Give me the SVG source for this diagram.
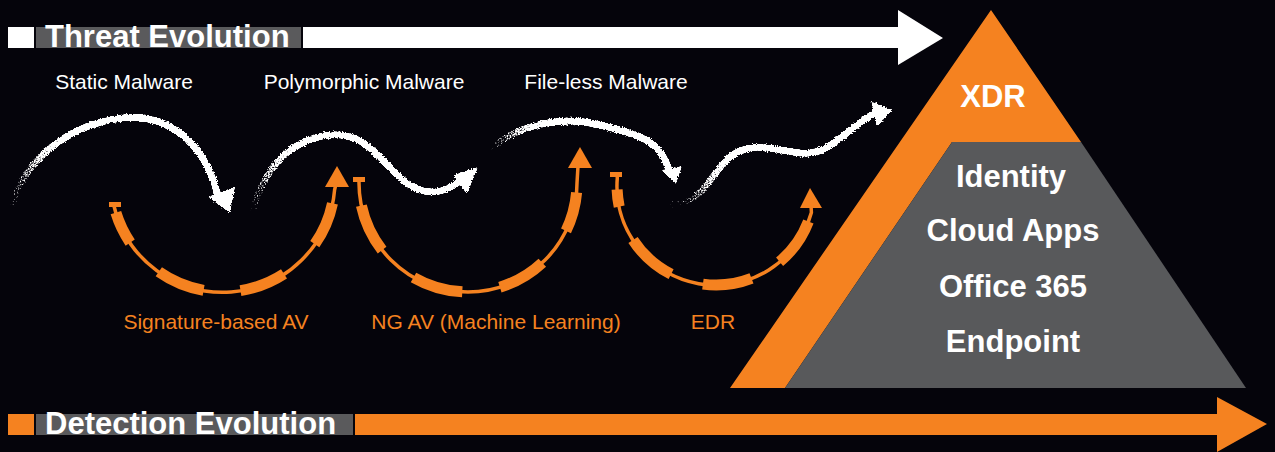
<svg xmlns="http://www.w3.org/2000/svg" width="1275" height="452" viewBox="0 0 1275 452">
<style>
.lblw{font-family:"Liberation Sans",Arial,sans-serif;font-size:21px;fill:#ffffff;text-anchor:middle}
.lblo{font-family:"Liberation Sans",Arial,sans-serif;font-size:21px;fill:#f58220;text-anchor:middle}
.title{font-family:"Liberation Sans",Arial,sans-serif;font-size:31px;font-weight:bold;fill:#ffffff}
.pyr{font-family:"Liberation Sans",Arial,sans-serif;font-size:31px;font-weight:bold;fill:#ffffff;text-anchor:middle}
.thin{fill:none;stroke:#f58220;stroke-width:3.5}
.thick{fill:none;stroke:#f58220;stroke-width:11;stroke-linecap:butt}
.orf{fill:#f58220}
.chalk{fill:none;stroke-width:7;stroke-linecap:round;stroke-linejoin:round}
</style>
<defs>
<filter id="rough" filterUnits="userSpaceOnUse" x="0" y="0" width="1275" height="452" color-interpolation-filters="sRGB">
<feTurbulence type="fractalNoise" baseFrequency="0.8" numOctaves="2" seed="3" result="n"/>
<feDisplacementMap in="SourceGraphic" in2="n" scale="3.5" xChannelSelector="R" yChannelSelector="G" result="d"/>
<feTurbulence type="fractalNoise" baseFrequency="0.7" numOctaves="1" seed="8" result="n2"/>
<feColorMatrix in="n2" type="matrix" values="0 0 0 0 0  0 0 0 0 0  0 0 0 0 0  1 0 0 0 0" result="nm"/>
<feComposite in="d" in2="nm" operator="arithmetic" k1="0" k2="4" k3="-4" k4="0.2"/>
</filter>
<linearGradient id="f1" gradientUnits="userSpaceOnUse" x1="13" y1="205" x2="70" y2="128"><stop offset="0" stop-color="#fff" stop-opacity="0.3"/><stop offset="1" stop-color="#fff" stop-opacity="1"/></linearGradient>
<linearGradient id="f2" gradientUnits="userSpaceOnUse" x1="253" y1="210" x2="305" y2="140"><stop offset="0" stop-color="#fff" stop-opacity="0.3"/><stop offset="1" stop-color="#fff" stop-opacity="1"/></linearGradient>
<linearGradient id="f3" gradientUnits="userSpaceOnUse" x1="490" y1="150" x2="550" y2="120"><stop offset="0" stop-color="#fff" stop-opacity="0.3"/><stop offset="1" stop-color="#fff" stop-opacity="1"/></linearGradient>
<linearGradient id="f4" gradientUnits="userSpaceOnUse" x1="673" y1="205" x2="735" y2="150"><stop offset="0" stop-color="#fff" stop-opacity="0.3"/><stop offset="1" stop-color="#fff" stop-opacity="1"/></linearGradient>
</defs>
<rect width="1275" height="452" fill="#05040b"/>

<g id="threat-evolution">
<rect x="8" y="27" width="26" height="21" fill="#ffffff"/>
<rect x="36" y="27" width="265" height="21" fill="#5a5a5c"/>
<polygon points="303,27 898,27 898,10 943,38 898,65 898,48 303,48" fill="#ffffff"/>
<text class="title" x="45" y="47">Threat Evolution</text>
</g>

<g id="detection-evolution">
<rect x="8" y="414" width="26" height="21" fill="#f58220"/>
<rect x="36" y="414" width="317" height="21" fill="#5a5a5c"/>
<polygon points="355,414 1217,414 1217,397 1267,424 1217,452 1217,435 355,435" fill="#f58220"/>
<text class="title" x="45" y="434">Detection Evolution</text>
</g>

<g id="threat-labels">
<text class="lblw" x="124" y="89">Static Malware</text>
<text class="lblw" x="364" y="89">Polymorphic Malware</text>
<text class="lblw" x="606" y="89">File-less Malware</text>
</g>

<g id="detection-labels">
<text class="lblo" x="216" y="329">Signature-based AV</text>
<text class="lblo" x="496" y="329">NG AV (Machine Learning)</text>
<text class="lblo" x="713" y="329">EDR</text>
</g>

<g id="pyramid">
<g id="xdr">
<polygon points="991,10 1081,142 952,142 785,388 730,388" fill="#f58220"/>
<text class="pyr" x="993" y="107">XDR</text>
</g>
<g id="layers">
<polygon points="952,142 1081,142 1246,388 785,388" fill="#58595b"/>
<text class="pyr" x="1011" y="187">Identity</text>
<text class="pyr" x="1013" y="241">Cloud Apps</text>
<text class="pyr" x="1013" y="297">Office 365</text>
<text class="pyr" x="1013" y="352">Endpoint</text>
</g>
</g>

<g id="connectors">
<g id="threat-arrows" filter="url(#rough)">
<path class="chalk" stroke="url(#f1)" d="M13,205 C20,170 60,125 123,118 C165,113 203,140 217,192"/>
<polygon points="208,197 235,187 230,213" fill="#fff"/>
<path class="chalk" stroke="url(#f2)" d="M253,210 C262,175 285,140 330,135 C370,131 385,170 410,185 C430,197 445,192 460,181"/>
<polygon points="453,175 467,194 478,167" fill="#fff"/>
<path class="chalk" stroke="url(#f3)" d="M493,147 C520,125 560,115 600,125 C640,135 660,140 669,170"/>
<polygon points="661,170 682,166 676,184" fill="#fff"/>
<path class="chalk" stroke="url(#f4)" d="M673,205 C700,205 710,175 730,157 C750,140 775,150 800,153 C830,156 845,130 873,114"/>
<polygon points="871,101 877,127 892,110" fill="#fff"/>
</g>
<g id="detection-arcs">
<rect x="109" y="202" width="12" height="5" class="orf"/>
<path class="thin" d="M115,204 L114,206 A112,112 0 0 0 334.6,189.8 L336,184"/>
<path class="thick" d="M115.9,212.7 A112,112 0 0 0 130.2,242.6"/>
<path class="thick" d="M158.8,271.7 A112,112 0 0 0 203.6,290.3"/>
<path class="thick" d="M240.5,290.6 A112,112 0 0 0 284,273.9"/>
<path class="thick" d="M314.8,244.2 A112,112 0 0 0 332.5,203.3"/>
<polygon points="325,187 349,187 337,166" class="orf"/>

<rect x="353" y="177" width="12" height="5" class="orf"/>
<path class="thin" d="M359,179 L359,183 A109,109 0 0 0 577,183 L578,166"/>
<path class="thick" d="M361.4,205.7 A109,109 0 0 0 382.1,250.1"/>
<path class="thick" d="M413.5,277.4 A109,109 0 0 0 462.3,291.8"/>
<path class="thick" d="M499.9,287.2 A109,109 0 0 0 542.3,262.7"/>
<path class="thick" d="M566,230.8 A109,109 0 0 0 576.6,192.5"/>
<polygon points="568,168 592,168 580,147" class="orf"/>

<rect x="610" y="172" width="12" height="5" class="orf"/>
<path class="thin" d="M617,174 L617.3,178 A99,99 0 0 0 811.4,212.5 L811,205"/>
<path class="thick" d="M617.1,189.5 A99,99 0 0 0 619.2,206.6"/>
<path class="thick" d="M633,239.9 A99,99 0 0 0 671.1,274.2"/>
<path class="thick" d="M702.9,284.1 A99,99 0 0 0 751.5,278.4"/>
<path class="thick" d="M779.6,261.8 A99,99 0 0 0 808.4,221.5"/>
<polygon points="800,208 822,208 810,188" class="orf"/>
</g>
</g>
</svg>
